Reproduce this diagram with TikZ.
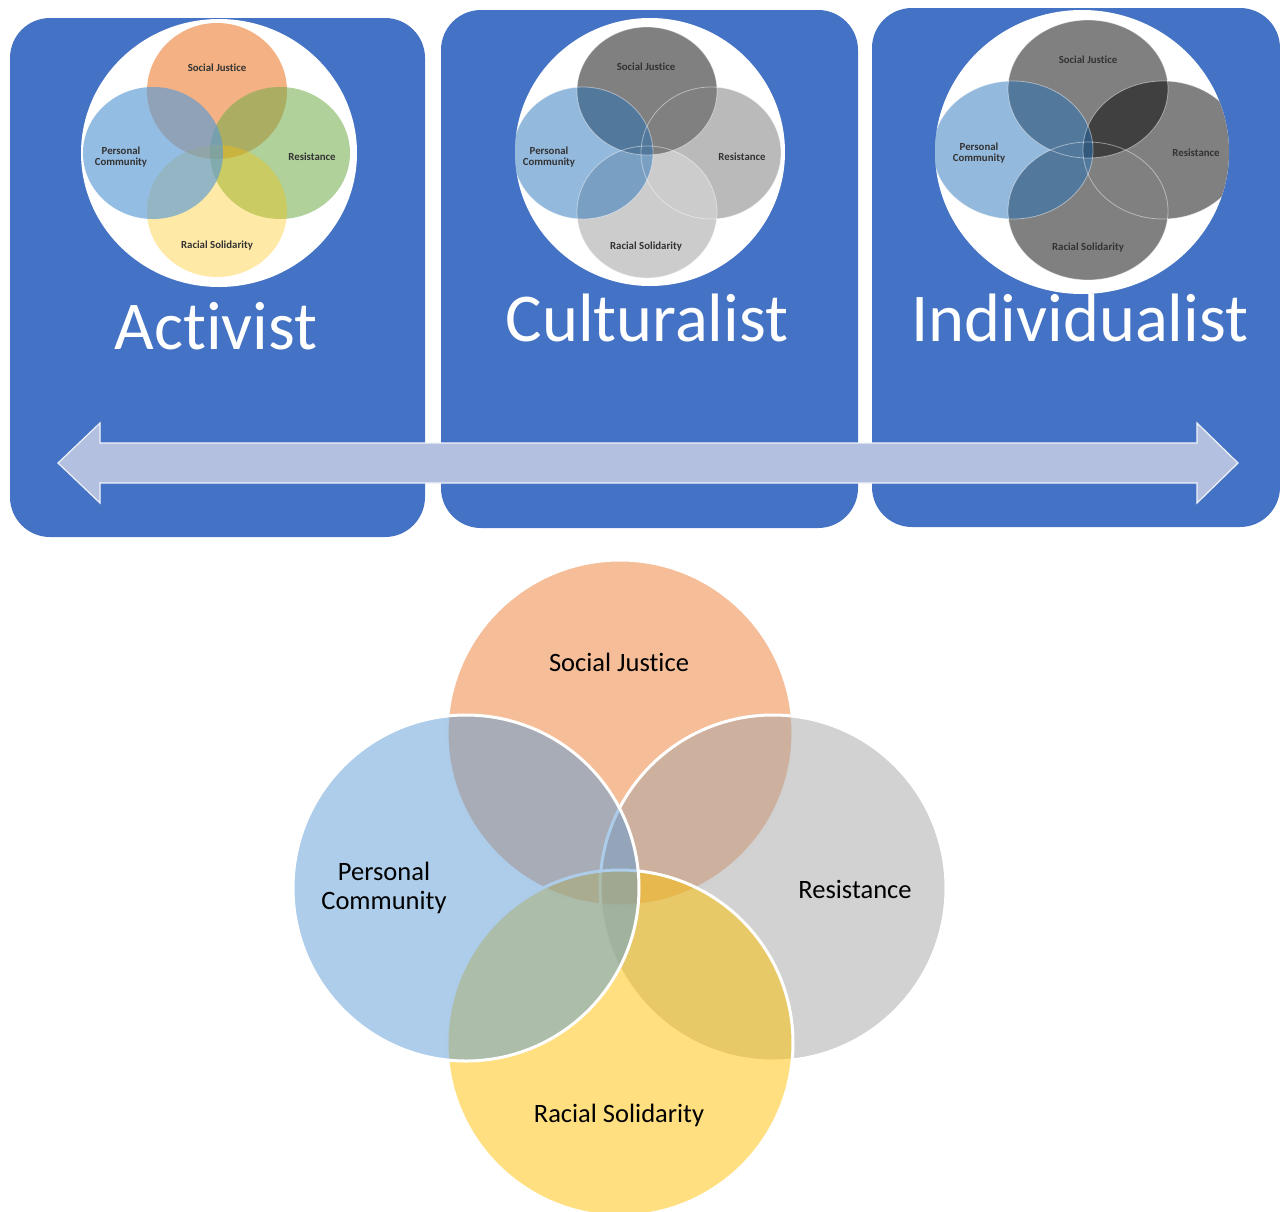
\documentclass[tikz,border=0pt]{standalone}
\usepackage{fontspec}
\setmainfont{Carlito}[Ligatures=NoCommon]

\definecolor{panelblue}{HTML}{4472C4}
\definecolor{arrowfill}{HTML}{B4C0E0}
\definecolor{sjorange}{HTML}{ED7D31}
\definecolor{pcblue}{HTML}{5B9BD5}
\definecolor{resgray}{HTML}{A5A5A5}
\definecolor{rsgold}{HTML}{FFC000}
\definecolor{resgreen}{HTML}{70AD47}
\definecolor{tintblue}{RGB}{36,113,187}

\begin{document}
\begin{tikzpicture}
[
    x=1pt, y=-1pt,
    panel/.style={fill=panelblue, rounded corners=40pt},
    title/.style={text=white, inner sep=0pt, font=\fontsize{68.5}{70}\selectfont},
    minilabel/.style={inner sep=0pt, align=center, text=black!80, font=\fontsize{10.8}{11}\selectfont\bfseries},
    biglabel/.style={inner sep=0pt, align=center, font=\fontsize{26.5}{29.5}\selectfont},
    ring/.style={draw=white, line width=3pt, fill opacity=0.5},
    rim/.style={draw=white, draw opacity=0.45, line width=0.8pt},
]
\useasboundingbox (0,0) rectangle (1280,1211);

% three panels
\fill[panel] (10,18) rectangle (425,537);
\fill[panel] (441,10) rectangle (858,528);
\fill[panel] (872,8) rectangle (1280,527);

% activist
\fill[white] (219,153) ellipse [x radius=138, y radius=134];
\begin{scope}
\clip (219,153) ellipse [x radius=138, y radius=134];
\fill[sjorange, fill opacity=0.6] (217,91) ellipse [x radius=70, y radius=68];
\fill[resgreen, fill opacity=0.55] (280,153) ellipse [x radius=70, y radius=66];
\fill[rsgold, fill opacity=0.35] (217,211) ellipse [x radius=70, y radius=66];
\fill[pcblue, fill opacity=0.65] (153,153) ellipse [x radius=70, y radius=66];
\end{scope}
\node[minilabel] (asj) at (217,68) {Social Justice};
\node[minilabel] (apc) at (121,157) {Personal\\Community};
\node[minilabel] (ares) at (312,157) {Resistance};
\node[minilabel] (ars) at (217,246) {Racial Solidarity};
\node[title] (activist) at (216,326) {Activist};

% culturalist
\fill[white] (650,152) ellipse [x radius=135, y radius=134];
\begin{scope}
\clip (650,152) ellipse [x radius=135, y radius=134];
\fill[black!27] (711,153) ellipse [x radius=70, y radius=66];
\fill[black!20] (647,212) ellipse [x radius=70, y radius=66];
\fill[black!50] (647,91) ellipse [x radius=70, y radius=64];
\fill[tintblue, fill opacity=0.49] (583,153) ellipse [x radius=70, y radius=66];
\draw[rim] (711,153) ellipse [x radius=70, y radius=66];
\draw[rim] (647,212) ellipse [x radius=70, y radius=66];
\draw[rim] (647,91) ellipse [x radius=70, y radius=64];
\draw[rim] (583,153) ellipse [x radius=70, y radius=66];
\end{scope}
\node[minilabel] (csj) at (646,67) {Social Justice};
\node[minilabel] (cpc) at (549,157) {Personal\\Community};
\node[minilabel] (cres) at (742,157) {Resistance};
\node[minilabel] (crs) at (646,247) {Racial Solidarity};
\node[title] (culturalist) at (647,318) {Culturalist};

% individualist
\fill[white] (1082,152) ellipse [x radius=147, y radius=142];
\begin{scope}
\clip (1082,152) ellipse [x radius=147, y radius=142];
\fill[black!50] (1088,89) ellipse [x radius=80, y radius=69];
\fill[black!50] (1163,150) ellipse [x radius=80, y radius=69];
\fill[black!50] (1088,211) ellipse [x radius=80, y radius=69];
\begin{scope}
\clip (1088,89) ellipse [x radius=80, y radius=69];
\fill[black!75] (1163,150) ellipse [x radius=80, y radius=69];
\end{scope}
\fill[tintblue, fill opacity=0.49] (1013,150) ellipse [x radius=80, y radius=69];
\draw[rim] (1088,89) ellipse [x radius=80, y radius=69];
\draw[rim] (1163,150) ellipse [x radius=80, y radius=69];
\draw[rim] (1088,211) ellipse [x radius=80, y radius=69];
\draw[rim] (1013,150) ellipse [x radius=80, y radius=69];
\end{scope}
\node[minilabel] (isj) at (1088,60) {Social Justice};
\node[minilabel] (ipc) at (979,153) {Personal\\Community};
\node[minilabel] (ires) at (1196,153) {Resistance};
\node[minilabel] (irs) at (1088,248) {Racial Solidarity};
\node[title] (individualist) at (1080,318) {Individualist};

% double arrow across the panels
\draw[fill=arrowfill, draw=white!80!arrowfill, line width=1.2pt]
    (58,463) -- (100,423) -- (100,443) -- (1197,443) -- (1197,423) -- (1238,463)
    -- (1197,503) -- (1197,483) -- (100,483) -- (100,503) -- cycle;

% large venn
\begin{scope}
\clip (0,545) rectangle (1280,1211);
\filldraw[ring, fill=sjorange] (620,733) circle [radius=173];
\filldraw[ring, fill=resgray] (773,888) circle [radius=173];
\filldraw[ring, fill=rsgold] (620,1043) circle [radius=173];
\filldraw[ring, fill=pcblue] (466,888) circle [radius=173];
\end{scope}
\node[biglabel] (sj) at (619,662) {Social Justice};
\node[biglabel] (pc) at (384,888) {Personal\\Community};
\node[biglabel] (res) at (855,889) {Resistance};
\node[biglabel] (rs) at (619,1115) {Racial Solidarity};
\end{tikzpicture}
\end{document}
